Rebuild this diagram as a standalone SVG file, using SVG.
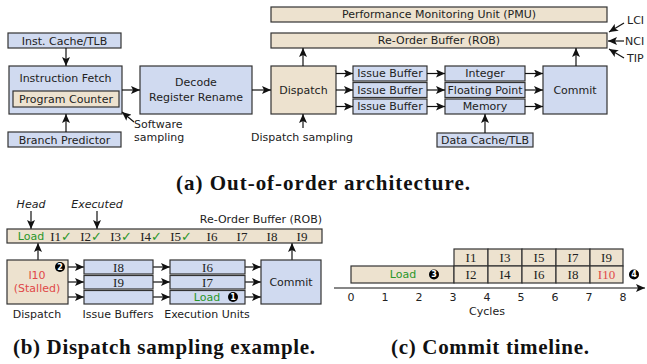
<svg xmlns="http://www.w3.org/2000/svg" width="647" height="364" viewBox="0 0 647 364">
  <defs>
    <marker id="arr" markerUnits="userSpaceOnUse" markerWidth="10" markerHeight="8" refX="9" refY="4" orient="auto">
      <path d="M0,0 L9,4 L0,8 L2,4 z" fill="#111"/>
    </marker>
    <style>
      .blue { fill: #d0daf0; stroke: #333; stroke-width: 1.2; }
      .tan { fill: #ede2cf; stroke: #333; stroke-width: 1.2; }
      .t { font-family: "DejaVu Sans", sans-serif; font-size: 11px; fill: #222; text-anchor: middle; dominant-baseline: central; }
      .l { text-anchor: start; }
      .s { font-family: "Liberation Serif", "DejaVu Serif", serif; font-size: 13px; }
      .ck { font-family: "DejaVu Sans", sans-serif; font-size: 13px; font-weight: bold; fill: #2a962a; }
      .it { font-style: italic; }
      .g { fill: #2a962a; }
      .r { fill: #e04848; }
      .cap { font-family: "Liberation Serif", "DejaVu Serif", serif; font-size: 21px; font-weight: bold; fill: #111; text-anchor: middle; }
      .c line { stroke: #111; stroke-width: 1.2; marker-end: url(#arr); }
      .badge { fill: #000; }
      .bt { font-family: "DejaVu Sans", sans-serif; font-size: 8px; font-weight: bold; fill: #fff; text-anchor: middle; dominant-baseline: central; }
    </style>
  </defs>

  <!-- (a) out-of-order pipeline -->
  <g id="inst-cache"><rect class="blue" x="8" y="33" width="113" height="15"/><text class="t" x="64.5" y="41">Inst. Cache/TLB</text></g>
  <g id="fetch"><rect class="blue" x="9" y="66" width="113" height="48"/><text class="t" x="65.5" y="78">Instruction Fetch</text></g>
  <g id="pc"><rect class="tan" x="13" y="91" width="106" height="16"/><text class="t" x="66" y="99">Program Counter</text></g>
  <g id="branch"><rect class="blue" x="8" y="132" width="113" height="15"/><text class="t" x="64.5" y="140">Branch Predictor</text></g>
  <g id="decode"><rect class="blue" x="140" y="66" width="112" height="48"/><text class="t" x="196" y="82">Decode</text><text class="t" x="196" y="97">Register Rename</text></g>
  <g id="dispatch"><rect class="tan" x="271" y="66" width="65" height="48"/><text class="t" x="303.5" y="90">Dispatch</text></g>
  <g id="pmu"><rect class="tan" x="271" y="7" width="336" height="15"/><text class="t" x="439" y="14.5">Performance Monitoring Unit (PMU)</text></g>
  <g id="rob"><rect class="tan" x="271" y="33" width="336" height="15"/><text class="t" x="439" y="40.5">Re-Order Buffer (ROB)</text></g>
  <g id="issue-buffers">
    <rect class="blue" x="353" y="66" width="74" height="15"/><text class="t" x="390" y="73.5">Issue Buffer</text>
    <rect class="blue" x="353" y="82.5" width="74" height="15"/><text class="t" x="390" y="90">Issue Buffer</text>
    <rect class="blue" x="353" y="99" width="74" height="15"/><text class="t" x="390" y="106.5">Issue Buffer</text>
  </g>
  <g id="exec-units">
    <rect class="blue" x="445" y="66" width="80" height="15"/><text class="t" x="485" y="73.5">Integer</text>
    <rect class="blue" x="445" y="82.5" width="80" height="15"/><text class="t" x="485" y="90">Floating Point</text>
    <rect class="blue" x="445" y="99" width="80" height="15"/><text class="t" x="485" y="106.5">Memory</text>
  </g>
  <g id="commit"><rect class="blue" x="543" y="66" width="64" height="48"/><text class="t" x="575" y="90">Commit</text></g>
  <g id="data-cache"><rect class="blue" x="437" y="133" width="96" height="14"/><text class="t" x="485" y="140">Data Cache/TLB</text></g>

  <text class="t l" x="134" y="124">Software</text>
  <text class="t l" x="134" y="137.5">sampling</text>
  <text class="t" x="302" y="137">Dispatch sampling</text>
  <text class="t l" x="627" y="20">LCI</text>
  <text class="t l" x="625" y="41">NCI</text>
  <text class="t l" x="627" y="58">TIP</text>

  <g id="connectors" class="c">
    <line x1="66" y1="48" x2="66" y2="66"/>
    <line x1="66" y1="132" x2="66" y2="114"/>
    <line x1="122" y1="90" x2="140" y2="90"/>
    <line x1="134" y1="122" x2="122" y2="112"/>
    <line x1="252" y1="90" x2="271" y2="90"/>
    <line x1="303" y1="66" x2="303" y2="48"/>
    <line x1="303" y1="128" x2="303" y2="114"/>
    <line x1="336" y1="73.5" x2="353" y2="73.5"/>
    <line x1="336" y1="90" x2="353" y2="90"/>
    <line x1="336" y1="106.5" x2="353" y2="106.5"/>
    <line x1="427" y1="73.5" x2="445" y2="73.5"/>
    <line x1="427" y1="90" x2="445" y2="90"/>
    <line x1="427" y1="106.5" x2="445" y2="106.5"/>
    <line x1="525" y1="73.5" x2="543" y2="73.5"/>
    <line x1="525" y1="90" x2="543" y2="90"/>
    <line x1="525" y1="106.5" x2="543" y2="106.5"/>
    <line x1="576" y1="66" x2="576" y2="48"/>
    <line x1="485" y1="133" x2="485" y2="114"/>
    <line x1="624" y1="23" x2="609" y2="32"/>
    <line x1="624" y1="41" x2="608" y2="41"/>
    <line x1="624" y1="58" x2="609" y2="49"/>

    <!-- (b) -->
    <line x1="31" y1="211" x2="31" y2="229"/>
    <line x1="97" y1="211" x2="97" y2="229"/>
    <line x1="38" y1="260" x2="38" y2="243"/>
    <line x1="68" y1="267" x2="84" y2="267"/>
    <line x1="68" y1="282" x2="84" y2="282"/>
    <line x1="68" y1="297" x2="84" y2="297"/>
    <line x1="153" y1="267" x2="170" y2="267"/>
    <line x1="153" y1="282" x2="170" y2="282"/>
    <line x1="153" y1="297" x2="170" y2="297"/>
    <line x1="245" y1="267" x2="261" y2="267"/>
    <line x1="245" y1="282" x2="261" y2="282"/>
    <line x1="245" y1="297" x2="261" y2="297"/>
    <line x1="292" y1="260" x2="292" y2="243"/>

    <!-- (c) time axis -->
    <line x1="334" y1="288" x2="645" y2="288"/>
  </g>

  <text class="cap" x="323" y="190" textLength="294" lengthAdjust="spacing">(a) Out-of-order architecture.</text>

  <!-- (b) dispatch sampling example -->
  <text class="t it" x="31" y="204">Head</text>
  <text class="t it" x="97" y="204">Executed</text>
  <text class="t" x="322" y="219" style="text-anchor:end">Re-Order Buffer (ROB)</text>
  <g id="rob-b">
    <rect class="tan" x="7" y="229" width="315" height="14"/>
    <text class="t g" x="31" y="236">Load</text>
    <text class="t s" x="61" y="236">I1<tspan class="ck">✓</tspan></text>
    <text class="t s" x="91" y="236">I2<tspan class="ck">✓</tspan></text>
    <text class="t s" x="121" y="236">I3<tspan class="ck">✓</tspan></text>
    <text class="t s" x="151" y="236">I4<tspan class="ck">✓</tspan></text>
    <text class="t s" x="181" y="236">I5<tspan class="ck">✓</tspan></text>
    <text class="t s" x="212" y="236">I6</text>
    <text class="t s" x="242" y="236">I7</text>
    <text class="t s" x="272" y="236">I8</text>
    <text class="t s" x="302" y="236">I9</text>
  </g>
  <g id="dispatch-b">
    <rect class="tan" x="7" y="260" width="61" height="44"/>
    <text class="t r" x="37" y="275">I10</text>
    <text class="t r" x="37" y="288">(Stalled)</text>
    <circle class="badge" cx="60" cy="267" r="5"/><text class="bt" x="60" y="267">2</text>
  </g>
  <g id="issue-b">
    <rect class="blue" x="84" y="260" width="69" height="14"/><text class="t s" x="118.5" y="267">I8</text>
    <rect class="blue" x="84" y="275.5" width="69" height="13.5"/><text class="t s" x="118.5" y="282">I9</text>
    <rect class="blue" x="84" y="290.5" width="69" height="13.5"/>
  </g>
  <g id="exec-b">
    <rect class="blue" x="170" y="260" width="75" height="14"/><text class="t s" x="207.5" y="267">I6</text>
    <rect class="blue" x="170" y="275.5" width="75" height="13.5"/><text class="t s" x="207.5" y="282">I7</text>
    <rect class="blue" x="170" y="290.5" width="75" height="13.5"/><text class="t g" x="207" y="297.5">Load</text>
    <circle class="badge" cx="233" cy="297" r="5"/><text class="bt" x="233" y="297">1</text>
  </g>
  <g id="commit-b"><rect class="blue" x="261" y="260" width="60" height="44"/><text class="t" x="291" y="282">Commit</text></g>
  <text class="t" x="37" y="314">Dispatch</text>
  <text class="t" x="118" y="314">Issue Buffers</text>
  <text class="t" x="207" y="314">Execution Units</text>
  <text class="cap" x="164" y="354" textLength="302" lengthAdjust="spacing">(b) Dispatch sampling example.</text>

  <!-- (c) commit timeline -->
  <g id="timeline">
    <rect class="tan" x="351" y="266" width="103" height="17"/>
    <text class="t g" x="403" y="274.5">Load</text>
    <circle class="badge" cx="434" cy="274.5" r="5"/><text class="bt" x="434" y="274.5">3</text>
    <rect class="tan" x="454" y="249" width="34" height="17"/><text class="t s" x="471" y="257.5">I1</text>
    <rect class="tan" x="488" y="249" width="34" height="17"/><text class="t s" x="505" y="257.5">I3</text>
    <rect class="tan" x="522" y="249" width="34" height="17"/><text class="t s" x="539" y="257.5">I5</text>
    <rect class="tan" x="556" y="249" width="34" height="17"/><text class="t s" x="573" y="257.5">I7</text>
    <rect class="tan" x="590" y="249" width="33" height="17"/><text class="t s" x="606.5" y="257.5">I9</text>
    <rect class="tan" x="454" y="266" width="34" height="17"/><text class="t s" x="471" y="274.5">I2</text>
    <rect class="tan" x="488" y="266" width="34" height="17"/><text class="t s" x="505" y="274.5">I4</text>
    <rect class="tan" x="522" y="266" width="34" height="17"/><text class="t s" x="539" y="274.5">I6</text>
    <rect class="tan" x="556" y="266" width="34" height="17"/><text class="t s" x="573" y="274.5">I8</text>
    <rect class="tan" x="590" y="266" width="33" height="17"/><text class="t s r" x="606.5" y="274.5">I10</text>
    <circle class="badge" cx="634" cy="274.5" r="5"/><text class="bt" x="634" y="274.5">4</text>
  </g>
  <g id="axis-labels">
    <text class="t" x="351" y="297">0</text>
    <text class="t" x="385" y="297">1</text>
    <text class="t" x="419" y="297">2</text>
    <text class="t" x="453" y="297">3</text>
    <text class="t" x="487" y="297">4</text>
    <text class="t" x="521" y="297">5</text>
    <text class="t" x="555" y="297">6</text>
    <text class="t" x="589" y="297">7</text>
    <text class="t" x="623" y="297">8</text>
    <text class="t" x="487" y="311.5">Cycles</text>
  </g>
  <text class="cap" x="490" y="354" textLength="198" lengthAdjust="spacing">(c) Commit timeline.</text>
</svg>
